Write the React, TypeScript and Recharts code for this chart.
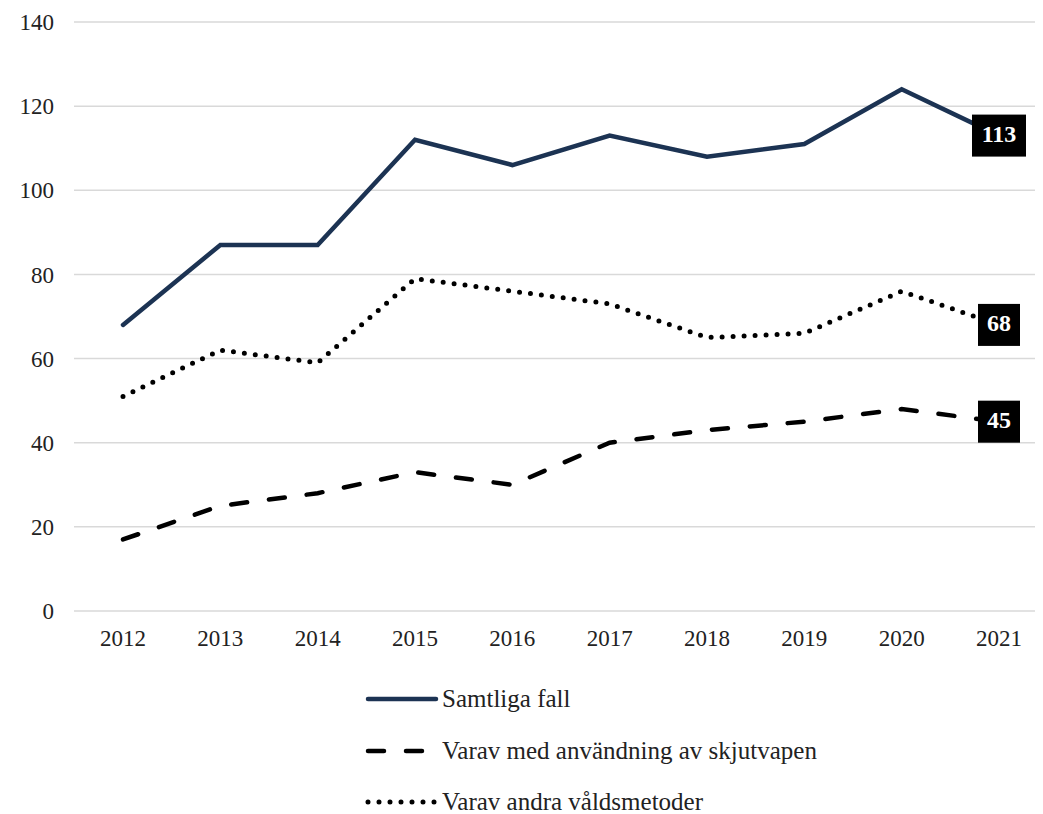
import { LineChart, Line, XAxis, YAxis, CartesianGrid, LabelList } from "recharts";

const years = ["2012", "2013", "2014", "2015", "2016", "2017", "2018", "2019", "2020", "2021"];
const samtliga = [68, 87, 87, 112, 106, 113, 108, 111, 124, 113];
const skjutvapen = [17, 25, 28, 33, 30, 40, 43, 45, 48, 45];
const andra = [51, 62, 59, 79, 76, 73, 65, 66, 76, 68];
const yTicks = [0, 20, 40, 60, 80, 100, 120, 140];

const data = years.map((year, i) => ({
  year,
  samtliga: samtliga[i],
  skjutvapen: skjutvapen[i],
  andra: andra[i],
}));

const FONT = "'Liberation Serif', 'DejaVu Serif', serif";
const NAVY = "#1c3353";

// black box with white number, only on the last point
function EndLabel(props: any) {
  const { x, y, value, index } = props;
  if (index !== years.length - 1) return null;
  const w = String(value).length * 12 + 18;
  const h = 42;
  return (
    <g>
      <rect x={x - w / 2} y={y - h / 2} width={w} height={h} fill="#000" />
      <text
        x={x}
        y={y + 1}
        fill="#fff"
        fontFamily={FONT}
        fontWeight="bold"
        fontSize={24}
        textAnchor="middle"
        dominantBaseline="middle"
      >
        {value}
      </text>
    </g>
  );
}

const legendItems = [
  { label: "Samtliga fall", stroke: NAVY, dash: undefined as string | undefined, width: 4.5 },
  { label: "Varav med användning av skjutvapen", stroke: "#000", dash: "16 22", width: 4.5 },
  { label: "Varav andra våldsmetoder", stroke: "#000", dash: "0 11", width: 5 },
];

export default function App() {
  return (
    <div style={{ position: "relative", width: 1027, height: 806, overflow: "hidden", fontFamily: FONT }}>
      <LineChart
        width={1045}
        height={660}
        data={data}
        margin={{ top: 14, right: 5, left: 0, bottom: 27 }}
      >
        <CartesianGrid vertical={false} stroke="#d9d9d9" strokeWidth={1.5} />
        <XAxis
          dataKey="year"
          axisLine={false}
          tickLine={false}
          height={30}
          padding={{ left: 49, right: 49 }}
          tick={{ fontSize: 23, fill: "#222", fontFamily: FONT }}
          tickMargin={13}
        />
        <YAxis
          domain={[0, 140]}
          ticks={yTicks}
          width={66}
          axisLine={false}
          tickLine={false}
          tick={{ fontSize: 23, fill: "#222", fontFamily: FONT }}
          tickMargin={14}
        />
        <Line
          dataKey="samtliga"
          stroke={NAVY}
          strokeWidth={4.5}
          strokeLinecap="round"
          dot={false}
          isAnimationActive={false}
        >
          <LabelList dataKey="samtliga" content={EndLabel} />
        </Line>
        <Line
          dataKey="skjutvapen"
          stroke="#000"
          strokeWidth={4.5}
          strokeDasharray="16 22"
          strokeLinecap="round"
          dot={false}
          isAnimationActive={false}
        >
          <LabelList dataKey="skjutvapen" content={EndLabel} />
        </Line>
        <Line
          dataKey="andra"
          stroke="#000"
          strokeWidth={5}
          strokeDasharray="0 11"
          strokeLinecap="round"
          dot={false}
          isAnimationActive={false}
        >
          <LabelList dataKey="andra" content={EndLabel} />
        </Line>
      </LineChart>
      {legendItems.map((item, i) => (
        <div
          key={item.label}
          style={{
            position: "absolute",
            left: 356,
            top: 681 + i * 51.5,
            height: 20,
            lineHeight: "20px",
            display: "flex",
            alignItems: "center",
            whiteSpace: "nowrap",
          }}
        >
          <svg width={76} height={12} style={{ marginRight: 2 }}>
            <line
              x1={4}
              y1={6}
              x2={72}
              y2={6}
              stroke={item.stroke}
              strokeWidth={item.width}
              strokeDasharray={item.dash}
              strokeLinecap="round"
            />
          </svg>
          <span style={{ fontSize: 25, color: "#222" }}>{item.label}</span>
        </div>
      ))}
    </div>
  );
}
